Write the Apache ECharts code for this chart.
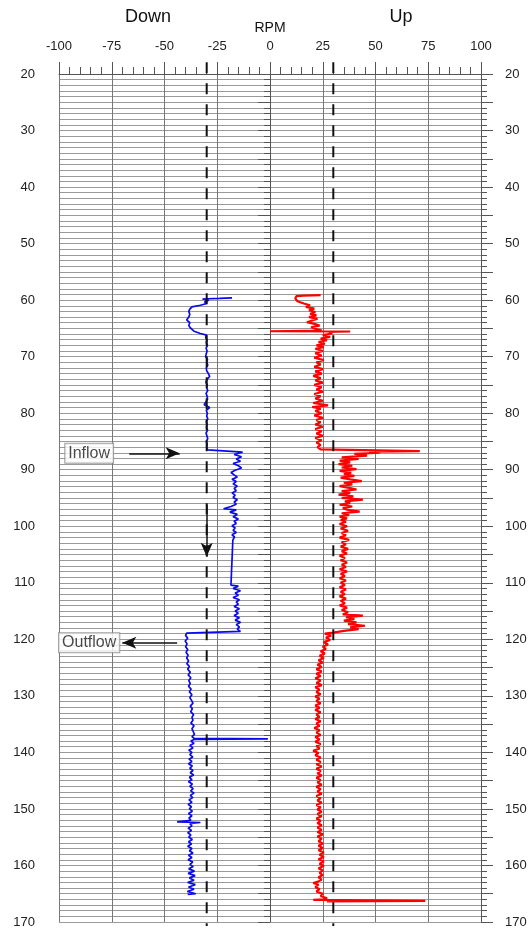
<!DOCTYPE html>
<html>
<head>
<meta charset="utf-8">
<title>Spinner RPM log</title>
<script src="https://cdn.jsdelivr.net/npm/echarts@6/dist/echarts.min.js"></script>
<style>
  html, body { margin: 0; padding: 0; background: #fff; }
  #chart { width: 532px; height: 931px; }
</style>
</head>
<body>
<div id="chart"></div>
<script>
// Downward pass: depth (m) and spinner RPM
const downDepth = [
  59.6, 59.7, 59.8, 60.0, 60.3, 60.6, 60.9, 61.2, 61.6, 62.0, 62.5, 63.0, 63.5, 64.0, 64.5, 65.0, 65.5, 65.9,
  66.2, 66.6, 67.0, 67.5, 68.0, 68.5, 69.0, 69.5, 70.0, 70.5, 71.0, 71.5, 72.0, 72.5, 73.0, 73.5, 74.0, 74.5,
  75.0, 75.5, 76.0, 76.5, 77.0, 77.5, 78.0, 78.5, 79.0, 79.5, 80.0, 80.5, 81.0, 81.5, 82.0, 82.5, 83.0, 83.5,
  84.0, 84.5, 85.0, 85.5, 86.0, 86.5, 86.8,
  86.9, 87.3, 87.7, 88.1, 88.5, 88.9, 89.3, 89.7, 90.1, 90.5, 90.9, 91.3, 91.7, 92.1, 92.5, 92.9, 93.3, 93.7,
  94.1, 94.5, 94.9, 95.3, 95.7, 96.1, 96.5, 96.9, 97.1, 97.5, 97.9, 98.3, 98.7, 99.1, 99.5, 99.9, 100.3, 100.7,
  101.1, 101.5, 101.9, 102.4, 110.4, 110.6, 111.0, 111.4, 111.8, 112.2, 112.6, 113.0, 113.4, 113.8, 114.2,
  114.6, 115.0, 115.4, 115.8, 116.2, 116.6, 117.0, 117.4, 117.8, 118.2, 118.6,
  118.9, 119.3, 119.8, 120.3, 120.8, 121.3, 121.8, 122.3, 122.8, 123.3, 123.8, 124.3, 124.8, 125.3, 125.8,
  126.3, 126.8, 127.3, 127.8, 128.3, 128.8, 129.3, 129.8, 130.3, 130.8, 131.3, 131.8, 132.3, 132.8, 133.3,
  133.8, 134.3, 134.8, 135.3, 135.8, 136.3, 136.8, 137.2, 137.5, 137.6, 137.7, 138.0, 138.4, 138.8, 139.2,
  139.6, 140.0, 140.4, 140.8, 141.2, 141.6, 142.0, 142.4, 142.8, 143.2, 143.6, 144.0, 144.4, 144.8, 145.2,
  145.6, 146.0, 146.4, 146.8, 147.2, 147.6, 148.0, 148.4, 148.8, 149.2, 149.6, 150.0, 150.4, 150.8, 151.2,
  151.6, 152.0, 152.3, 152.4, 152.6, 153.0, 153.4, 153.8, 154.2, 154.6, 155.0, 155.4, 155.8, 156.2, 156.6,
  157.0, 157.4, 157.8, 158.2, 158.6, 159.0, 159.4, 159.8, 160.2, 160.6, 161.0, 161.4, 161.8, 162.2, 162.6,
  163.0, 163.4, 163.8, 164.2, 164.6, 165.0, 165.1
];
const downRpm = [
  -18, -24, -32, -29, -31, -30, -33, -37, -38, -38.5, -38, -38.5, -39.5, -38, -38.5, -37.5, -36, -33,
  -30, -30.5, -29.8, -30.2, -29.6, -30.3, -29.8, -30.2, -30.5, -29.6, -30, -29.5, -30.2, -30, -29.2, -28.6, -29.8, -30.4,
  -29.7, -30, -29.5, -30.3, -29.8, -29.6, -30.4, -31.2, -28.6, -30.2, -29.7, -30, -29.5, -30.2, -29.8, -30.1, -29.6, -30.3,
  -29.9, -29.5, -30.2, -29.8, -30, -29.5, -29.8,
  -13, -17, -13.5, -16, -14, -17.5, -15, -13.5, -16.5, -18.5, -17, -15.5, -18, -16, -17.5, -15.5, -17, -16,
  -18, -16.5, -17.5, -15.5, -17, -16, -18.5, -22, -16, -19, -15.5, -17.5, -15, -17, -16, -18, -16.5, -17.5,
  -16, -18, -16.8, -17.6, -18.5, -15, -17.5, -14, -16.5, -15, -17.5, -14.5, -16, -15, -17,
  -14.5, -16.5, -15, -17, -14.5, -16.5, -14, -16, -14.5, -15.5, -14,
  -39.5, -40, -39, -40.2, -39.3, -40, -39, -39.8, -38.8, -39.5, -38.6, -39.4, -38.2, -39, -37.8,
  -38.8, -37.5, -38.5, -37.8, -38.6, -37.4, -38.2, -37, -38, -37.2, -36.5, -37.8, -36.8, -37.6, -36.2,
  -37, -36.5, -37.5, -36, -37, -36.4, -35.8, -37, -36, -1, -36, -37.5, -36, -38, -36.5,
  -38.5, -37, -38, -36.6, -38.4, -37, -38.6, -36.8, -38, -36.5, -37.8, -36.2, -38.2, -37, -38.6,
  -36.8, -38, -36.4, -37.6, -36, -37.8, -36.6, -38.4, -37, -38.8, -37.2, -38.2, -36.8, -38.6, -37,
  -38.4, -37.5, -44, -33, -38, -37, -38.8, -37.2, -39, -37.5, -38.5, -36.8, -38.6, -37.2, -39,
  -37, -38.2, -36.5, -38.6, -37, -38.8, -36.6, -38, -36.4, -38.5, -35.8, -38.8, -35.5, -38.2, -36,
  -39, -35.4, -38.6, -36, -39.2, -35.2, -39
];

// Upward pass: depth (m) and spinner RPM
const upDepth = [
  59.1, 59.2, 59.3, 59.7, 60.2, 60.6, 60.9, 61.2, 61.5, 61.8, 62.1, 62.4, 62.7, 63.0, 63.3, 63.6, 63.9, 64.2,
  64.5, 64.8, 65.1, 65.4, 65.5, 65.55, 65.6, 65.9, 66.2, 66.5, 66.8, 67.1, 67.4, 67.7, 68.0, 68.3, 68.6,
  69.0, 69.4, 69.8, 70.2, 70.6, 71.0, 71.4, 71.8, 72.2, 72.6, 73.0, 73.4, 73.8, 74.2, 74.6, 75.0, 75.4, 75.8,
  76.2, 76.6, 77.0, 77.4, 77.8, 78.2, 78.6, 78.9, 79.2, 79.6, 80.0, 80.4, 80.8, 81.2, 81.6, 82.0, 82.4, 82.8,
  83.2, 83.6, 84.0, 84.4, 84.8, 85.2, 85.6, 86.0, 86.4, 86.6, 86.7, 86.8, 87.0, 87.2, 87.5, 87.8, 88.1, 88.4,
  88.7, 89.0, 89.3, 89.6, 89.9, 90.2, 90.5, 90.8, 91.1, 91.4, 91.7, 92.0, 92.3, 92.6, 92.9, 93.2, 93.5, 93.8,
  94.1, 94.4, 94.7, 95.0, 95.3, 95.6, 95.9, 96.2, 96.5, 96.8, 97.1, 97.4, 97.7, 98.0, 98.3, 98.6, 98.9, 99.2,
  99.6, 100.0, 100.4, 100.8, 101.2, 101.6, 102.0, 102.4, 102.8, 103.2, 103.6, 104.0, 104.4, 104.8, 105.2,
  105.6, 106.0, 106.4, 106.8, 107.2, 107.6, 108.0, 108.4, 108.8, 109.2, 109.6, 110.0, 110.4, 110.8, 111.2,
  111.6, 112.0, 112.4, 112.8, 113.2, 113.6, 114.0, 114.4, 114.8, 115.2, 115.6, 115.8, 116.1, 116.4, 116.7,
  117.0, 117.3, 117.6, 117.9, 118.2, 118.5, 118.8, 119.0, 119.3, 119.7, 120.1, 120.5, 120.9, 121.3, 121.7,
  122.1, 122.5, 122.9, 123.3, 123.7, 124.1, 124.5, 124.9, 125.3, 125.7, 126.1, 126.5, 126.9, 127.3, 127.7,
  128.1, 128.5, 128.9, 129.3, 129.7, 130.1, 130.5, 130.9, 131.3, 131.7, 132.1, 132.5, 132.9, 133.3, 133.7,
  134.1, 134.5, 134.9, 135.3, 135.7, 136.1, 136.5, 136.9, 137.3, 137.7, 138.1, 138.5, 138.9, 139.3, 139.7,
  140.1, 140.5, 140.9, 141.3, 141.7, 142.1, 142.5, 142.9, 143.3, 143.7, 144.1, 144.5, 144.9, 145.3, 145.7,
  146.1, 146.5, 146.9, 147.3, 147.7, 148.1, 148.5, 148.9, 149.3, 149.7, 150.1, 150.5, 150.9, 151.3, 151.7,
  152.1, 152.5, 152.9, 153.3, 153.7, 154.1, 154.5, 154.9, 155.3, 155.7, 156.1, 156.5, 156.9, 157.3, 157.7,
  158.1, 158.5, 158.9, 159.3, 159.7, 160.1, 160.5, 160.9, 161.3, 161.7, 162.1, 162.5, 162.9, 163.1, 163.4,
  163.8, 164.2, 164.6, 165.0, 165.4, 165.8, 166.0, 166.1, 166.25, 166.35
];
const upRpm = [
  24, 16, 12.5, 12, 13, 16, 19, 17, 21, 18.5, 21.5, 19, 22, 18.5, 22.5, 20, 17.5, 21,
  23.5, 19.5, 22, 24.5, 0, 38, 28, 29.5, 25, 28.5, 24, 27, 23, 26, 22, 25.5, 21.5,
  25, 21.5, 24.5, 21, 25.5, 22, 24, 21, 25, 21.5, 24.5, 20.5, 24, 21.5, 25, 21, 24.5, 22,
  25, 21, 24, 21.5, 25, 20.5, 27.5, 20, 24, 21.5, 24.5, 21, 25, 22, 24, 21.5, 25, 21.5,
  24.5, 22, 25, 21.5, 24.5, 22, 24, 22.5, 24, 24.5, 71, 47, 52, 40, 46, 34, 42, 33,
  38, 32.5, 39, 34, 41, 33, 38.5, 35, 40, 33.5, 38, 43.5, 35, 39, 33, 37.5, 41, 34,
  38, 32.5, 39.5, 34, 44, 35.5, 38, 33, 39, 34.5, 37, 42.5, 34, 37.5, 33, 36.5, 33.5, 36,
  33, 36.5, 33.5, 37, 34, 36, 33, 37.5, 34, 36, 33.5, 37, 34, 36.5, 33,
  35.5, 33.5, 36.5, 34, 36, 33, 36.5, 33.5, 35.5, 33, 36, 33.5, 35.5, 33, 36,
  33.5, 35.5, 33, 36, 33.5, 35.5, 33, 36.5, 34, 37, 34.5, 44, 36, 40, 35,
  41, 37, 45, 38, 42, 35, 30, 26, 29, 26.5, 28.5, 25.5, 27.5, 25, 26.5,
  24, 26, 23.5, 25.5, 23, 25, 22.5, 24.5, 22, 24.5, 22, 24, 21.5, 24, 22,
  24.5, 21.5, 23.5, 22, 24, 21.5, 23.5, 22, 24, 21.5, 23.5, 21.5, 24, 22, 23.5,
  21.5, 24, 22, 23.5, 21, 23.5, 22, 24, 21.5, 23.5, 21.5, 24, 22, 23.5, 20.5,
  23, 21.5, 24, 22, 24, 22, 24.5, 22, 24, 22.5, 24.5, 22, 24, 22.5, 24.5,
  22, 24, 22.5, 24.5, 22, 24, 22.5, 24.5, 22, 24, 22.5, 24.5, 22.5, 24.5, 22,
  24, 22.5, 24.5, 22.5, 24.5, 22.5, 25, 22.5, 24.5, 23, 25, 23, 25, 23, 25.5,
  23.5, 25.5, 23, 25.5, 23.5, 25.5, 23, 25, 23.5, 25, 23, 24.5, 22.5, 20.5, 23,
  21.5, 23.5, 22, 25, 24, 27, 26, 20.5, 73.6, 27
];

// Reference RPM thresholds (dashed guides)
const thresholdRpm = [-30, 30];
const guideDepth = [17.9, 170.7];

// Flow annotations
const flowNotes = [
  { text: 'Inflow', rpm: -85.7, depth: 87.1, arrowFrom: -66.7, arrowTo: -42.8 },
  { text: 'Outflow', rpm: -85.7, depth: 120.6, arrowFrom: -44, arrowTo: -70 }
];
const flowDirection = { rpm: -30, fromDepth: 96.2, toDepth: 105.4 };

const xTicks = { min: -100, max: 100, step: 25 };
const depthTicks = { min: 20, max: 170, step: 5 };

const pair = (rpm, depth) => rpm.map((v, i) => [v, depth[i]]);

const FONT = '"Liberation Sans", Arial, Helvetica, sans-serif';
const chart = echarts.init(document.getElementById('chart'), null, { renderer: 'canvas' });

const depthAxis = (pos) => ({
  type: 'value',
  position: pos,
  inverse: true,
  min: depthTicks.min,
  max: depthTicks.max,
  interval: depthTicks.step,
  axisLine: { show: true, lineStyle: { color: '#555', width: 1 } },
  axisTick: { show: true, inside: false, length: 12, lineStyle: { color: '#555' } },
  minorTick: { show: true, splitNumber: 5, length: 6, lineStyle: { color: '#555' } },
  axisLabel: {
    margin: 24, color: '#222', fontSize: 13, fontFamily: FONT,
    formatter: (v) => (v % 10 === 0 ? String(v) : '')
  },
  splitLine: { show: pos === 'left', lineStyle: { color: '#9a9a9a', width: 1 } },
  minorSplitLine: { show: pos === 'left', lineStyle: { color: '#9a9a9a', width: 1 } }
});

const arrowLines = flowNotes.map((n) => [
  { coord: [n.arrowFrom, n.depth] },
  { coord: [n.arrowTo, n.depth] }
]);
arrowLines.push([
  { coord: [flowDirection.rpm, flowDirection.fromDepth] },
  { coord: [flowDirection.rpm, flowDirection.toDepth] }
]);

const option = {
  backgroundColor: '#ffffff',
  animation: false,
  grid: { left: 59, right: 51, top: 74, bottom: 9 },
  graphic: [
    { type: 'text', x: 148, y: 17, style: { text: 'Down', fill: '#111', font: '18px ' + FONT, align: 'center', verticalAlign: 'middle', textAlign: 'center', textVerticalAlign: 'middle' } },
    { type: 'text', x: 401, y: 17, style: { text: 'Up', fill: '#111', font: '18px ' + FONT, align: 'center', verticalAlign: 'middle', textAlign: 'center', textVerticalAlign: 'middle' } }
  ],
  xAxis: {
    type: 'value',
    position: 'top',
    min: xTicks.min,
    max: xTicks.max,
    interval: xTicks.step,
    name: 'RPM',
    nameLocation: 'middle',
    nameGap: 38,
    nameTextStyle: { color: '#111', fontSize: 14, fontFamily: FONT },
    axisLine: { show: true, lineStyle: { color: '#555', width: 1 } },
    axisTick: { show: true, inside: false, length: 12, lineStyle: { color: '#555' } },
    minorTick: { show: true, splitNumber: 5, length: 7, lineStyle: { color: '#555' } },
    axisLabel: { margin: 21, color: '#222', fontSize: 13, fontFamily: FONT },
    splitLine: { show: true, lineStyle: { color: '#777', width: 1 } }
  },
  yAxis: [depthAxis('left'), depthAxis('right')],
  series: [
    {
      name: 'Down',
      type: 'line',
      data: pair(downRpm, downDepth),
      showSymbol: false,
      symbol: 'none',
      lineStyle: { color: '#0a0aee', width: 1.7 },
      z: 3
    },
    {
      name: 'Up',
      type: 'line',
      data: pair(upRpm, upDepth),
      showSymbol: false,
      symbol: 'none',
      lineStyle: { color: '#ff0000', width: 2.2 },
      z: 3
    },
    ...thresholdRpm.map((r) => ({
      name: 'threshold ' + r,
      type: 'line',
      data: guideDepth.map((d) => [r, d]),
      clip: false,
      symbol: 'none',
      lineStyle: { color: '#111', width: 2, type: [11, 10] },
      z: 4
    })),
    {
      name: 'flow notes',
      type: 'scatter',
      data: flowNotes.map((n) => ({ value: [n.rpm, n.depth], name: n.text })),
      symbolSize: 1,
      itemStyle: { color: 'rgba(0,0,0,0)' },
      label: {
        show: true,
        position: 'inside',
        formatter: (p) => p.name,
        color: '#1a1a1a',
        fontSize: 16,
        fontFamily: FONT,
        backgroundColor: '#fff',
        borderColor: '#888',
        borderWidth: 1,
        padding: [2, 3, 1, 3]
      },
      markLine: {
        silent: true,
        symbol: ['none', 'arrow'],
        symbolSize: [9, 14],
        label: { show: false },
        lineStyle: { color: '#111', width: 1.5, type: 'solid' },
        data: arrowLines
      },
      z: 6
    }
  ]
};

chart.setOption(option);
</script>
</body>
</html>
